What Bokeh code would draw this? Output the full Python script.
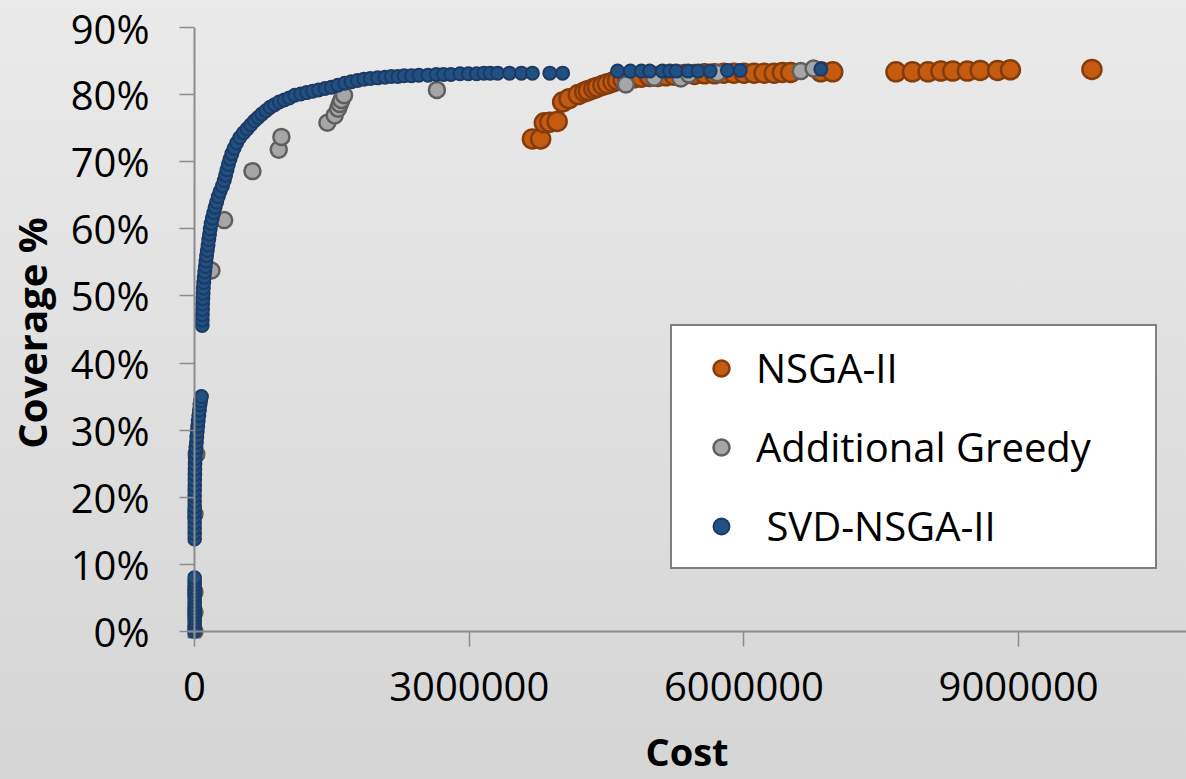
from bokeh.plotting import figure
from bokeh.models import (Range1d, FixedTicker, NumeralTickFormatter, Legend, LegendItem,
                          ColumnDataSource, Span)
from bokeh.embed import file_html
from bokeh.resources import INLINE

# ---------------- data ----------------
nsga_cost = [3690000, 3780000, 3820000, 3880000, 3960000, 4020000, 4090000, 4190000, 4260000, 4300000,
             4360000, 4400000, 4460000, 4510000, 4570000, 4620000, 4680000, 4730000, 4800000, 4880000,
             4970000, 5060000, 5150000, 5240000, 5350000, 5460000, 5570000, 5680000, 5780000, 5890000,
             6000000, 6110000, 6220000, 6330000, 6420000, 6510000, 6840000, 6970000, 7660000, 7840000,
             8010000, 8150000, 8280000, 8440000, 8580000, 8770000, 8910000, 9800000]
nsga_cov = [73.4, 73.4, 75.8, 75.9, 76.0, 78.9, 79.4, 80.0, 80.4, 80.6,
            80.9, 81.1, 81.4, 81.6, 81.9, 82.1, 82.2, 82.4, 82.5, 82.6,
            82.7, 82.7, 82.8, 82.9, 83.0, 83.0, 83.1, 83.1, 83.2, 83.2,
            83.2, 83.2, 83.2, 83.2, 83.3, 83.3, 83.4, 83.4, 83.4, 83.4,
            83.4, 83.5, 83.5, 83.5, 83.6, 83.6, 83.7, 83.75]

greedy_cost = [0, 0, 0, 0, 20000, 185000, 324000, 633000, 920000, 949000,
               1451000, 1531000, 1568000, 1586000, 1604000, 1633000, 2647000, 4710000, 5020000, 5310000,
               5400000, 5710000, 6620000, 6760000]
greedy_cov = [0.0, 2.9, 5.9, 17.5, 26.4, 53.8, 61.3, 68.6, 71.8, 73.7,
              75.8, 76.9, 77.9, 78.6, 79.2, 79.9, 80.7, 81.5, 82.5, 82.4,
              83.0, 83.2, 83.5, 83.9]

svd_cost = [0, 0, 0, 0, 0, 0, 0, 0, 0, 0, 0, 0, 0, 0, 0, 0, 0,
            0, 0, 0, 0, 0, 0, 0, 0, 0, 0, 1000, 2000, 3000, 4000, 5000, 8000, 12000, 16000,
            21000, 25000, 30000, 35000, 41000, 47000, 54000, 60000, 66000, 76000,
            84000, 85000, 86000, 88000, 89000, 91000, 94000, 97000, 101000, 106000,
            112000, 118000, 125000, 132000, 140000, 148000, 156000, 164000, 172000, 182000,
            195000, 210000, 225000, 242000, 260000, 280000, 305000, 325000, 340000, 355000,
            370000, 388000, 408000, 432000, 460000, 495000, 535000, 575000, 615000, 655000,
            695000, 735000, 780000, 825000, 875000, 925000, 980000, 1035000, 1095000, 1160000,
            1225000, 1290000, 1355000, 1425000, 1495000, 1565000, 1640000, 1710000, 1780000, 1850000,
            1920000, 2000000, 2080000, 2150000, 2220000, 2290000, 2370000, 2450000, 2550000, 2640000,
            2720000, 2800000, 2900000, 2990000, 3080000, 3160000, 3230000, 3310000, 3440000, 3570000,
            3690000, 3880000, 4020000,
            4620000, 4760000, 4880000, 4970000, 5110000, 5190000, 5260000, 5390000, 5500000, 5630000,
            5820000, 5960000, 6840000]
svd_cov = [0.0, 0.5, 1.0, 1.5, 2.0, 2.5, 3.0, 3.5, 4.0, 4.5, 5.0, 5.5, 6.0, 6.5, 7.0, 7.5, 8.0,
           13.8, 14.6, 15.4, 16.2, 17.0, 17.8, 18.6, 19.4, 20.2, 21.0, 21.8, 22.6, 23.4, 24.2, 25.0, 25.8, 26.6, 27.4,
           28.2, 29.0, 29.8, 30.6, 31.4, 32.2, 33.0, 33.8, 34.4, 35.0,
           45.6, 46.4, 47.2, 48.0, 48.8, 49.6, 50.4, 51.2, 52.0, 52.8,
           53.6, 54.4, 55.2, 56.0, 56.8, 57.6, 58.4, 59.2, 60.0, 60.8,
           61.6, 62.4, 63.2, 64.0, 64.8, 65.6, 66.4, 67.2, 68.0, 68.8,
           69.6, 70.4, 71.2, 72.0, 72.8, 73.6, 74.3, 74.9, 75.5, 76.1,
           76.6, 77.1, 77.6, 78.1, 78.5, 78.9, 79.2, 79.5, 79.9, 80.1,
           80.3, 80.5, 80.7, 80.9, 81.1, 81.4, 81.7, 81.9, 82.1, 82.3,
           82.4, 82.5, 82.6, 82.7, 82.7, 82.8, 82.8, 82.9, 82.9, 83.0,
           83.0, 83.0, 83.1, 83.1, 83.1, 83.2, 83.2, 83.2, 83.2, 83.2,
           83.2, 83.2, 83.2,
           83.5, 83.5, 83.5, 83.5, 83.5, 83.5, 83.5, 83.5, 83.5, 83.5,
           83.6, 83.6, 83.8]

series_names = ["NSGA-II", "Additional Greedy", " SVD-NSGA-II"]
x_ticks = [0, 3000000, 6000000, 9000000]
y_ticks = [0.0, 0.1, 0.2, 0.3, 0.4, 0.5, 0.6, 0.7, 0.8, 0.9]
x_title = "Cost"
y_title = "Coverage %"

# ---------------- layout ----------------
W, H = 1186, 779
FRAME_L = 186          # frame left edge (px)
FRAME_T = 27           # frame top edge (px) = 90%
FRAME_B = 638          # frame bottom edge (px)
AXIS_X = 193           # pixel of cost = 0
AXIS_Y = 631           # pixel of coverage = 0
PX_9M = 1018           # pixel of cost = 9,000,000
ppu_x = (PX_9M - AXIS_X) / 9000000.0
ppu_y = (AXIS_Y - FRAME_T) / 0.9
x_start = -(AXIS_X - FRAME_L) / ppu_x
x_end = (W - AXIS_X) / ppu_x
y_start = -(FRAME_B - AXIS_Y) / ppu_y

p = figure(width=W, height=H, output_backend="svg", toolbar_location=None,
           x_range=Range1d(x_start, x_end), y_range=Range1d(y_start, 0.9),
           min_border_left=FRAME_L, min_border_right=0, min_border_top=FRAME_T,
           min_border_bottom=H - FRAME_B)
p.background_fill_color = None
p.border_fill_color = None
p.outline_line_color = None
p.styles = {"background": "linear-gradient(180deg, #eaeaea 0%, #d5d5d5 100%)"}
p.grid.visible = False

src_n = ColumnDataSource(dict(x=nsga_cost, y=[v / 100.0 for v in nsga_cov]))
src_g = ColumnDataSource(dict(x=greedy_cost, y=[v / 100.0 for v in greedy_cov]))
src_s = ColumnDataSource(dict(x=svd_cost, y=[v / 100.0 for v in svd_cov]))

AXIS_COLOR = "#8c8c8c"
# axis lines through the origin
p.add_layout(Span(location=0, dimension="height", line_color=AXIS_COLOR, line_width=2))
p.add_layout(Span(location=0, dimension="width", line_color=AXIS_COLOR, line_width=2))

r_n = p.scatter("x", "y", source=src_n, marker="circle", size=19,
                fill_color="#c55a11", line_color="#843c0c", line_width=2.5)
r_g = p.scatter("x", "y", source=src_g, marker="circle", size=16,
                fill_color="#a6a6a6", line_color="#5f5f5f", line_width=2.5)
r_s = p.scatter("x", "y", source=src_s, marker="circle", size=13,
                fill_color="#215183", line_color="#1c3a66", line_width=2)

# axes
xa = p.xaxis[0]
ya = p.yaxis[0]
for ax in (xa, ya):
    ax.axis_line_color = None
    ax.major_tick_line_color = AXIS_COLOR
    ax.major_tick_line_width = 1.5
    ax.major_tick_out = 8
    ax.major_tick_in = 7
    ax.minor_tick_line_color = None
    ax.major_label_text_color = "black"
    ax.major_label_text_font = "Open Sans"
    ax.axis_label_text_color = "black"
    ax.axis_label_text_font = "Open Sans"
    ax.axis_label_text_font_style = "bold"

xa.ticker = FixedTicker(ticks=x_ticks)
xa.formatter = NumeralTickFormatter(format="0")
xa.major_label_text_font_size = "40px"
xa.major_label_standoff = 25
xa.axis_label = x_title
xa.axis_label_text_font_size = "38px"
xa.axis_label_standoff = 21

ya.ticker = FixedTicker(ticks=y_ticks)
ya.formatter = NumeralTickFormatter(format="0%")
ya.major_label_text_font_size = "40px"
ya.major_label_standoff = 30
ya.axis_label = y_title
ya.axis_label_text_font_size = "40px"
ya.axis_label_standoff = 9

legend = Legend(items=[LegendItem(label=series_names[0], renderers=[r_n]),
                       LegendItem(label=series_names[1], renderers=[r_g]),
                       LegendItem(label=series_names[2], renderers=[r_s])],
                location=(669 - FRAME_L, FRAME_B - 569), margin=0,
                padding=14, spacing=24, glyph_width=70, glyph_height=40,
                label_height=40, label_width=385, label_standoff=0,
                label_text_font="Open Sans", label_text_font_size="40px",
                label_text_color="black",
                border_line_color="black", border_line_width=2,
                background_fill_color="white", background_fill_alpha=1.0)
p.add_layout(legend, "center")

open("out.html", "w").write(file_html(p, INLINE))
